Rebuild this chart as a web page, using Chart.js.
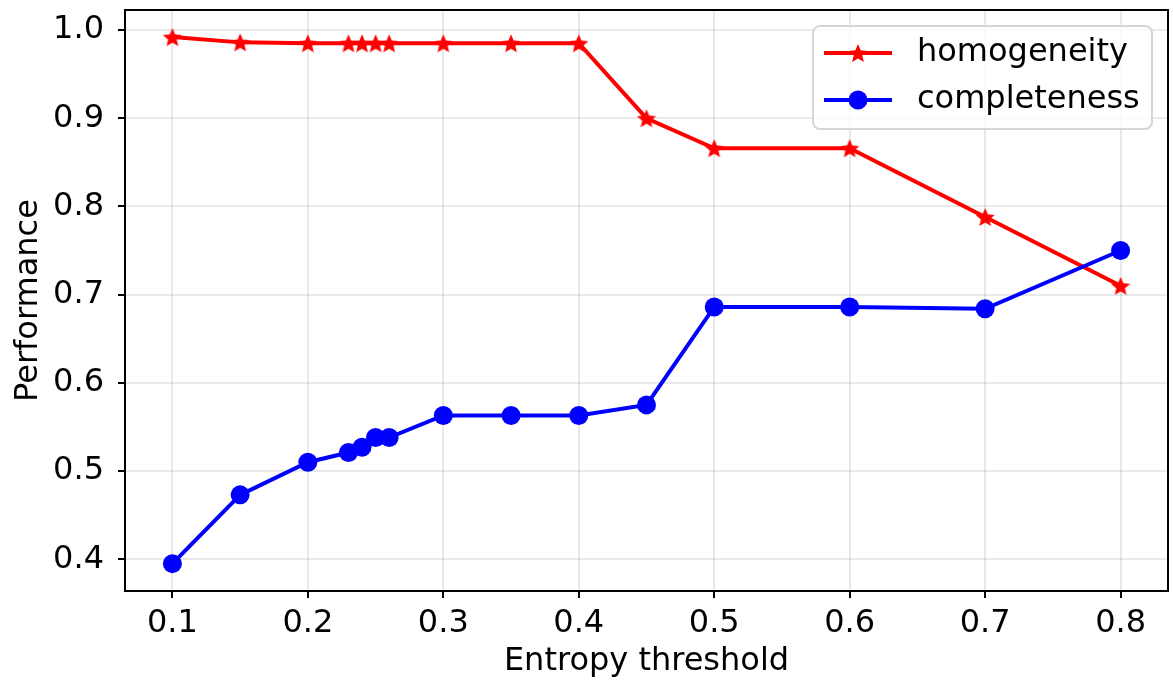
<!DOCTYPE html>
<html>
<head>
<meta charset="utf-8">
<script src="https://cdn.jsdelivr.net/npm/chart.js@4.4.1/dist/chart.umd.min.js"></script>
<style>
  body { margin: 0; background: #fff; }
  canvas { display: block; }
</style>
</head>
<body>
<canvas id="perfChart" width="1173" height="683"></canvas>
<script>
// entropy thresholds and the two clustering scores
const thresholds = [0.1, 0.15, 0.2, 0.23, 0.24, 0.25, 0.26, 0.3, 0.35, 0.4, 0.45, 0.5, 0.6, 0.7, 0.8];
const homogeneity = [0.992, 0.986, 0.985, 0.985, 0.985, 0.985, 0.985, 0.985, 0.985, 0.985, 0.900, 0.866, 0.866, 0.788, 0.710];
const completeness = [0.395, 0.473, 0.510, 0.521, 0.527, 0.538, 0.538, 0.563, 0.563, 0.563, 0.575, 0.686, 0.686, 0.684, 0.750];

const xTicks = [0.1, 0.2, 0.3, 0.4, 0.5, 0.6, 0.7, 0.8];
const yTicks = [0.4, 0.5, 0.6, 0.7, 0.8, 0.9, 1.0];

const FONT = "'DejaVu Sans', sans-serif";
const GRID = 'rgba(0, 0, 0, 0.085)';

// filled five-point star used as the homogeneity marker
function makeStar(size, color) {
  const c = document.createElement('canvas');
  c.width = size; c.height = size;
  const g = c.getContext('2d');
  const r = size / 2, ri = r * 0.45;
  g.beginPath();
  for (let i = 0; i < 10; i++) {
    const rad = i % 2 === 0 ? r : ri;
    const ang = -Math.PI / 2 + i * Math.PI / 5;
    const px = r + rad * Math.cos(ang), py = r + rad * Math.sin(ang) + 1;
    if (i === 0) g.moveTo(px, py); else g.lineTo(px, py);
  }
  g.closePath();
  g.fillStyle = color;
  g.fill();
  return c;
}
const starMarker = makeStar(20, '#ff0000');

function toPoints(ys) {
  return thresholds.map((x, i) => ({ x: x, y: ys[i] }));
}

// black box around the axes plus a matplotlib-style legend
const framePlugin = {
  id: 'frame',
  afterDraw(chart) {
    const { ctx, chartArea: a } = chart;
    ctx.save();
    ctx.strokeStyle = '#000';
    ctx.lineWidth = 2;
    ctx.strokeRect(a.left, a.top, a.right - a.left, a.bottom - a.top);

    const w = 339, h = 103;
    const bx = a.right - 355, by = a.top + 16;
    ctx.beginPath();
    ctx.roundRect(bx, by, w, h, 7);
    ctx.fillStyle = 'rgba(255,255,255,0.8)';
    ctx.fill();
    ctx.strokeStyle = '#d6d6d6';
    ctx.lineWidth = 2;
    ctx.stroke();

    const rows = [
      { label: 'homogeneity', color: '#ff0000', star: true, y: by + 27 },
      { label: 'completeness', color: '#0000ff', star: false, y: by + 74 }
    ];
    rows.forEach(r => {
      ctx.beginPath();
      ctx.moveTo(bx + 11, r.y);
      ctx.lineTo(bx + 79, r.y);
      ctx.strokeStyle = r.color;
      ctx.lineWidth = 4;
      ctx.stroke();
      if (r.star) {
        ctx.drawImage(starMarker, bx + 45 - 10, r.y - 10);
      } else {
        ctx.beginPath();
        ctx.arc(bx + 45, r.y, 9.5, 0, Math.PI * 2);
        ctx.fillStyle = r.color;
        ctx.fill();
      }
      ctx.fillStyle = '#000';
      ctx.font = '32px ' + FONT;
      ctx.textBaseline = 'middle';
      ctx.textAlign = 'left';
      ctx.fillText(r.label, bx + 104, r.y);
    });
    ctx.restore();
  }
};

const ctx = document.getElementById('perfChart').getContext('2d');
new Chart(ctx, {
  type: 'line',
  data: {
    datasets: [
      {
        label: 'homogeneity',
        data: toPoints(homogeneity),
        borderColor: '#ff0000',
        backgroundColor: '#ff0000',
        borderWidth: 4,
        pointStyle: starMarker,
        pointRadius: 10,
        tension: 0,
        order: 1
      },
      {
        label: 'completeness',
        data: toPoints(completeness),
        borderColor: '#0000ff',
        backgroundColor: '#0000ff',
        borderWidth: 4,
        pointStyle: 'circle',
        pointRadius: 9.5,
        pointBorderWidth: 0,
        tension: 0,
        order: 0
      }
    ]
  },
  options: {
    responsive: false,
    animation: false,
    layout: { autoPadding: false, padding: { top: 10, right: 5, left: 0, bottom: 0 } },
    plugins: {
      legend: { display: false },
      tooltip: { enabled: false }
    },
    scales: {
      x: {
        type: 'linear',
        min: 0.065,
        max: 0.835,
        afterBuildTicks: s => { s.ticks = xTicks.map(v => ({ value: v })); },
        afterFit: s => { s.height = 92; s.paddingLeft = 0; s.paddingRight = 0; },
        ticks: {
          color: '#000',
          font: { family: FONT, size: 32 },
          padding: 6,
          maxRotation: 0,
          callback: v => v.toFixed(1)
        },
        grid: { color: GRID, lineWidth: 2, tickLength: 7, tickColor: '#000', tickWidth: 2 },
        border: { display: false },
        title: {
          display: true,
          text: 'Entropy threshold',
          color: '#000',
          font: { family: FONT, size: 32 },
          padding: { top: 0, bottom: 2 }
        }
      },
      y: {
        min: 0.364,
        max: 1.0227,
        afterBuildTicks: s => { s.ticks = yTicks.map(v => ({ value: v })); },
        afterFit: s => { s.width = 125; s.paddingTop = 0; s.paddingBottom = 0; },
        ticks: {
          color: '#000',
          font: { family: FONT, size: 32 },
          padding: 14,
          callback: v => v.toFixed(1)
        },
        grid: { color: GRID, lineWidth: 2, tickLength: 7, tickColor: '#000', tickWidth: 2 },
        border: { display: false },
        title: {
          display: true,
          text: 'Performance',
          color: '#000',
          font: { family: FONT, size: 32 },
          padding: { top: 9, bottom: 0 }
        }
      }
    }
  },
  plugins: [framePlugin]
});
</script>
</body>
</html>
